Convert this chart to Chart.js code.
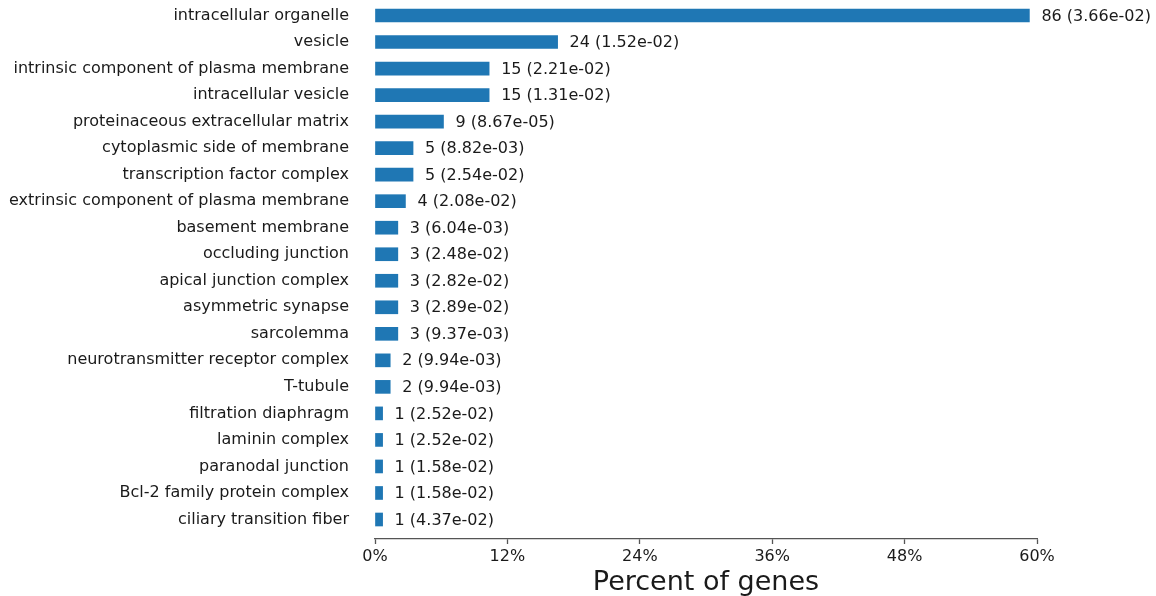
<!DOCTYPE html>
<html>
<head>
<meta charset="utf-8">
<script src="https://cdn.jsdelivr.net/npm/chart.js@4/dist/chart.umd.min.js"></script>
<style>
  html, body { margin: 0; padding: 0; background: #ffffff; }
  #wrap { width: 1156px; height: 596px; position: relative; }
</style>
</head>
<body>
<div id="wrap"><canvas id="chart" width="1156" height="596"></canvas></div>
<script>
// GO cellular component terms, gene counts and p-values
const categories = [
  "intracellular organelle",
  "vesicle",
  "intrinsic component of plasma membrane",
  "intracellular vesicle",
  "proteinaceous extracellular matrix",
  "cytoplasmic side of membrane",
  "transcription factor complex",
  "extrinsic component of plasma membrane",
  "basement membrane",
  "occluding junction",
  "apical junction complex",
  "asymmetric synapse",
  "sarcolemma",
  "neurotransmitter receptor complex",
  "T-tubule",
  "filtration diaphragm",
  "laminin complex",
  "paranodal junction",
  "Bcl-2 family protein complex",
  "ciliary transition fiber"
];
const geneCounts = [86, 24, 15, 15, 9, 5, 5, 4, 3, 3, 3, 3, 3, 2, 2, 1, 1, 1, 1, 1];
const pValues = [
  "3.66e-02", "1.52e-02", "2.21e-02", "1.31e-02", "8.67e-05",
  "8.82e-03", "2.54e-02", "2.08e-02", "6.04e-03", "2.48e-02",
  "2.82e-02", "2.89e-02", "9.37e-03", "9.94e-03", "9.94e-03",
  "2.52e-02", "2.52e-02", "1.58e-02", "1.58e-02", "4.37e-02"
];
const totalGenes = 145;
const xTicks = [0, 12, 24, 36, 48, 60];

const FONT = "'DejaVu Sans', sans-serif";
const TEXT = "#1a1a1a";

const percents = geneCounts.map(c => c / totalGenes * 100);

// writes "count (p-value)" just past the end of each bar
const barLabels = {
  id: "barLabels",
  afterDatasetsDraw(chart) {
    const ctx = chart.ctx;
    const meta = chart.getDatasetMeta(0);
    ctx.save();
    ctx.font = "16px " + FONT;
    ctx.fillStyle = TEXT;
    ctx.textAlign = "left";
    ctx.textBaseline = "middle";
    meta.data.forEach((bar, i) => {
      ctx.fillText(geneCounts[i] + " (" + pValues[i] + ")", bar.x + 12, bar.y + 1);
    });
    ctx.restore();
  }
};

new Chart(document.getElementById("chart"), {
  type: "bar",
  data: {
    datasets: [{
      data: percents.map((p, i) => ({ x: p, y: i })),
      backgroundColor: "#1f77b4",
      borderWidth: 0,
      barThickness: 13
    }]
  },
  options: {
    indexAxis: "y",
    responsive: false,
    animation: false,
    layout: { padding: { top: 0, right: 119, bottom: 0, left: 0 } },
    plugins: { legend: { display: false }, tooltip: { enabled: false } },
    scales: {
      x: {
        type: "linear",
        min: 0,
        max: 60,
        afterBuildTicks(scale) { scale.ticks = xTicks.map(v => ({ value: v })); },
        afterFit(scale) { scale.height = 57; scale.paddingLeft = 0; scale.paddingRight = 0; },
        ticks: {
          callback: v => v + "%",
          color: TEXT,
          font: { family: FONT, size: 16 },
          padding: 3,
          maxRotation: 0,
          autoSkip: false
        },
        grid: { drawOnChartArea: false, drawTicks: true, tickLength: 5, color: "#555555", tickWidth: 1.3 },
        border: { display: true, color: "#555555", width: 1.3 },
        title: {
          display: true,
          text: "Percent of genes",
          color: TEXT,
          font: { family: FONT, size: 27, lineHeight: 1.0 },
          padding: { top: 0, bottom: 0 }
        }
      },
      y: {
        type: "linear",
        reverse: true,
        offset: false,
        min: -0.584,
        max: 19.735,
        afterBuildTicks(scale) { scale.ticks = categories.map((_, i) => ({ value: i })); },
        afterFit(scale) { scale.width = 375; scale.paddingTop = 0; scale.paddingBottom = 0; },
        ticks: {
          callback: v => categories[v],
          color: TEXT,
          font: { family: FONT, size: 16 },
          padding: 26,
          autoSkip: false
        },
        grid: { display: false, drawTicks: false },
        border: { display: false }
      }
    }
  },
  plugins: [barLabels]
});
</script>
</body>
</html>
